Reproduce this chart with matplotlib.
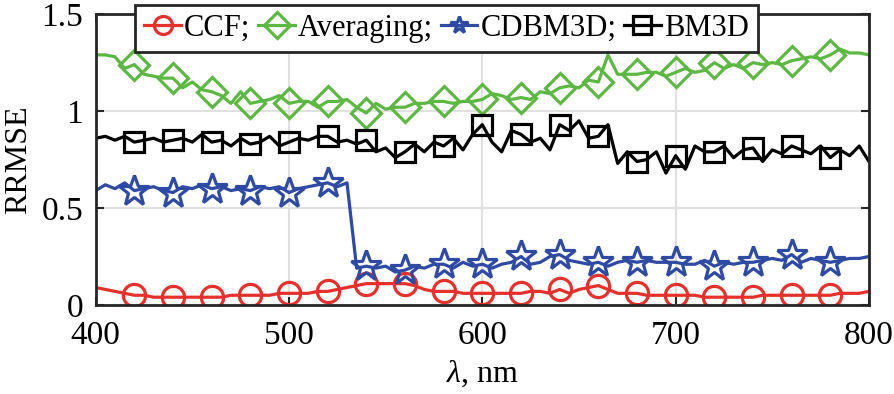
import matplotlib
matplotlib.use("Agg")
import matplotlib.pyplot as plt
import numpy as np

# wavelength grid (nm), 5 nm steps
wl = np.arange(400, 801, 5)

ccf = [0.09, 0.08, 0.07, 0.06, 0.05, 0.05, 0.04, 0.04, 0.04, 0.04,
       0.04, 0.04, 0.04, 0.04, 0.05, 0.05, 0.05, 0.05, 0.05, 0.06,
       0.06, 0.06, 0.06, 0.07, 0.07, 0.08, 0.09, 0.10, 0.11, 0.11,
       0.11, 0.11, 0.11, 0.10, 0.08, 0.07, 0.07, 0.07, 0.06, 0.06,
       0.06, 0.06, 0.06, 0.06, 0.06, 0.07, 0.07, 0.06, 0.08, 0.06,
       0.08, 0.09, 0.10, 0.08, 0.06, 0.06, 0.06, 0.05, 0.05, 0.05,
       0.05, 0.05, 0.05, 0.04, 0.04, 0.04, 0.04, 0.04, 0.04, 0.05,
       0.05, 0.05, 0.05, 0.05, 0.05, 0.05, 0.05, 0.06, 0.06, 0.06,
       0.07]

averaging = [1.29, 1.29, 1.28, 1.22, 1.24, 1.19, 1.18, 1.17, 1.17, 1.12,
             1.15, 1.11, 1.10, 1.08, 1.04, 1.10, 1.04, 1.05, 1.06, 1.08,
             1.04, 1.05, 1.05, 1.02, 1.05, 1.05, 1.06, 1.02, 0.99, 1.04,
             1.01, 1.02, 1.02, 1.04, 1.04, 1.05, 1.05, 1.04, 1.05, 1.05,
             1.06, 1.09, 1.08, 1.06, 1.07, 1.06, 1.10, 1.09, 1.12, 1.13,
             1.12, 1.16, 1.15, 1.29, 1.19, 1.19, 1.19, 1.20, 1.20, 1.18,
             1.20, 1.22, 1.20, 1.21, 1.25, 1.22, 1.24, 1.22, 1.25, 1.24,
             1.25, 1.24, 1.26, 1.27, 1.28, 1.27, 1.29, 1.32, 1.30, 1.30,
             1.29]

cdbm3d = [0.59, 0.62, 0.60, 0.63, 0.59, 0.60, 0.61, 0.59, 0.58, 0.61,
          0.60, 0.62, 0.60, 0.61, 0.59, 0.60, 0.59, 0.61, 0.60, 0.61,
          0.58, 0.60, 0.61, 0.62, 0.63, 0.61, 0.63, 0.19, 0.20, 0.19,
          0.20, 0.17, 0.18, 0.20, 0.19, 0.21, 0.21, 0.19, 0.22, 0.20,
          0.21, 0.19, 0.21, 0.22, 0.25, 0.21, 0.22, 0.25, 0.26, 0.23,
          0.22, 0.21, 0.22, 0.20, 0.22, 0.23, 0.22, 0.23, 0.22, 0.22,
          0.22, 0.21, 0.21, 0.23, 0.20, 0.22, 0.21, 0.22, 0.22, 0.23,
          0.24, 0.23, 0.26, 0.22, 0.24, 0.23, 0.22, 0.23, 0.24, 0.24,
          0.25]

bm3d = [0.86, 0.87, 0.85, 0.87, 0.84, 0.85, 0.86, 0.84, 0.85, 0.86,
        0.84, 0.88, 0.84, 0.85, 0.82, 0.86, 0.83, 0.84, 0.87, 0.82,
        0.84, 0.86, 0.85, 0.87, 0.87, 0.84, 0.85, 0.83, 0.85, 0.79,
        0.81, 0.76, 0.79, 0.83, 0.79, 0.84, 0.82, 0.86, 0.80, 0.88,
        0.93, 0.84, 0.79, 0.90, 0.88, 0.84, 0.86, 0.80, 0.93, 0.90,
        0.95, 0.86, 0.87, 0.93, 0.73, 0.79, 0.74, 0.75, 0.79, 0.68,
        0.77, 0.70, 0.82, 0.79, 0.79, 0.82, 0.76, 0.80, 0.81, 0.74,
        0.80, 0.78, 0.82, 0.80, 0.78, 0.82, 0.76, 0.80, 0.77, 0.82,
        0.74]

plt.rcParams['font.family'] = ['Liberation Serif', 'DejaVu Serif']
plt.rcParams['mathtext.fontset'] = 'custom'
plt.rcParams['mathtext.rm'] = 'Liberation Serif'
plt.rcParams['mathtext.it'] = 'Liberation Serif:italic'

fig = plt.figure(figsize=(8.94, 3.94), dpi=100)
ax = fig.add_axes([0.107, 0.226, 0.865, 0.738])

marks = slice(4, 80, 4)  # every 20 nm, 420..780
lw = 2.3
mew = 2.3
ax.plot(wl, ccf, color='#e4312b', lw=lw, marker='o', ms=16, mfc='none',
        mew=mew, markevery=marks, label='CCF;')
ax.plot(wl, averaging, color='#5db843', lw=lw, marker='D', ms=15, mfc='none',
        mew=mew, markevery=marks, label='Averaging;')
ax.plot(wl, cdbm3d, color='#2e4aa3', lw=lw, marker='*', ms=23, mfc='none',
        mew=mew, markevery=marks, label='CDBM3D;')
ax.plot(wl, bm3d, color='black', lw=lw, marker='s', ms=14, mfc='none',
        mew=mew, markevery=marks, label='BM3D')

ax.set_xlim(400, 800)
ax.set_ylim(0, 1.5)
ax.set_xticks([400, 500, 600, 700, 800])
ax.set_yticks([0, 0.5, 1, 1.5])
ax.set_yticklabels(['0', '0.5', '1', '1.5'])
ax.grid(True, color='#e0e0e0', lw=1.5)
ax.set_axisbelow(True)
ax.tick_params(direction='in', length=6, width=1.5, labelsize=24,
               top=True, right=True, colors='#262626', labelcolor='black')
ax.tick_params(axis='x', pad=11)
ax.tick_params(axis='y', pad=9)
for s in ax.spines.values():
    s.set_linewidth(2)
    s.set_color('#262626')

ax.set_xlabel(r'$\lambda$, nm', fontsize=23, labelpad=6)
ax.set_ylabel('RRMSE', fontsize=23, labelpad=6)

leg = ax.legend(loc='upper center', bbox_to_anchor=(0.4995, 0.988),
                bbox_transform=fig.transFigure, ncol=4, fontsize=22,
                frameon=True, fancybox=False, edgecolor='#262626',
                handlelength=1.2, handletextpad=0.1, columnspacing=0.25,
                borderpad=0.3, borderaxespad=0)
leg.get_frame().set_linewidth(2)
leg.get_frame().set_alpha(1)
for h in leg.legend_handles:
    h.set_markersize(13)

fig.savefig('out.png', dpi=100)
